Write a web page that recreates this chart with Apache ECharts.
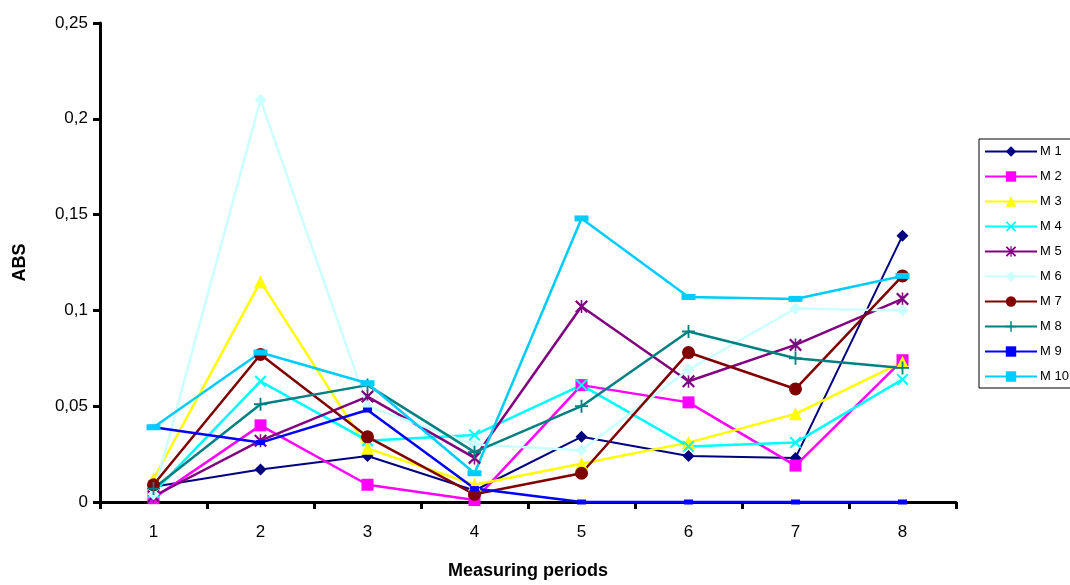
<!DOCTYPE html>
<html>
<head>
<meta charset="utf-8">
<script src="https://cdn.jsdelivr.net/npm/echarts@6/dist/echarts.min.js"></script>
<style>
  html, body { margin: 0; padding: 0; background: #fff; }
  #chart { width: 1070px; height: 585px; }
</style>
</head>
<body>
<div id="chart"></div>
<script>
// measuring periods
var periods = ['1', '2', '3', '4', '5', '6', '7', '8'];
var seriesNames = ['M 1', 'M 2', 'M 3', 'M 4', 'M 5', 'M 6', 'M 7', 'M 8', 'M 9', 'M 10'];

// ABS values
var m1  = [0.008, 0.017, 0.024, 0.006, 0.034, 0.024, 0.023, 0.139];
var m2  = [0.002, 0.040, 0.009, 0.001, 0.061, 0.052, 0.019, 0.074];
var m3  = [0.012, 0.115, 0.028, 0.009, 0.020, 0.031, 0.046, 0.073];
var m4  = [0.005, 0.063, 0.032, 0.035, 0.061, 0.029, 0.031, 0.064];
var m5  = [0.003, 0.032, 0.055, 0.023, 0.102, 0.063, 0.082, 0.106];
var m6  = [0.004, 0.210, 0.050, 0.030, 0.027, 0.069, 0.101, 0.100];
var m7  = [0.009, 0.077, 0.034, 0.004, 0.015, 0.078, 0.059, 0.118];
var m8  = [0.007, 0.051, 0.061, 0.026, 0.050, 0.089, 0.075, 0.070];
var m9  = [0.039, 0.031, 0.048, 0.007, 0, 0, 0, 0];
var m10 = [0.039, 0.078, 0.062, 0.015, 0.148, 0.107, 0.106, 0.118];

var allData = [m1, m2, m3, m4, m5, m6, m7, m8, m9, m10];
var colors = ['#000080', '#FF00FF', '#FFFF00', '#00FFFF', '#800080', '#CCFFFF', '#800000', '#008080', '#0000FF', '#00CCFF'];

var xPath = 'path://M0,1.2L1.2,0L5,3.8L8.8,0L10,1.2L6.2,5L10,8.8L8.8,10L5,6.2L1.2,10L0,8.8L3.8,5Z';
var starPath = 'path://M0,1.2L1.2,0L5,3.8L8.8,0L10,1.2L6.2,5L10,8.8L8.8,10L5,6.2L1.2,10L0,8.8L3.8,5ZM4.4,0H5.6V10H4.4Z';
var plusPath = 'path://M4.3,0H5.7V4.3H10V5.7H5.7V10H4.3V5.7H0V4.3H4.3Z';

var symbols = ['diamond', 'rect', 'triangle', xPath, starPath, 'diamond', 'circle', plusPath, 'rect', 'rect'];
var symbolSizes = [12, 12, 13, 12, 13, 12, 13, 13, [9, 5], [14, 6]];

var chart = echarts.init(document.getElementById('chart'));

var series = [];
for (var i = 0; i < allData.length; i++) {
  series.push({
    name: seriesNames[i],
    type: 'line',
    data: allData[i],
    symbol: symbols[i],
    symbolSize: symbolSizes[i],
    showAllSymbol: true,
    color: colors[i],
    lineStyle: { width: i === 0 ? 2 : 2.5, color: colors[i] },
    itemStyle: { color: colors[i] },
    emphasis: { disabled: true },
    animation: false
  });
}

var option = {
  backgroundColor: '#fff',
  animation: false,
  grid: { left: 100, right: 114, top: 23, bottom: 79 },
  legend: {
    orient: 'vertical',
    left: 979,
    top: 139,
    width: 95,
    padding: [6, 4, 5, 5],
    itemWidth: 52,
    itemHeight: 13,
    itemGap: 12,
    borderColor: '#000',
    borderWidth: 1,
    borderRadius: 0,
    data: seriesNames,
    textStyle: { fontFamily: 'Liberation Sans', fontSize: 13, color: '#000', padding: [0, 0, 0, -2] }
  },
  xAxis: {
    type: 'category',
    data: periods,
    boundaryGap: true,
    name: 'Measuring periods',
    nameLocation: 'middle',
    nameGap: 60,
    nameTextStyle: { fontFamily: 'Liberation Sans', fontSize: 18, fontWeight: 'bold', color: '#000' },
    axisLine: { lineStyle: { color: '#000', width: 3 } },
    axisTick: { show: true, length: 7, lineStyle: { color: '#000', width: 3 } },
    axisLabel: { fontFamily: 'Liberation Sans', fontSize: 17, color: '#000', margin: 22 },
    splitLine: { show: false }
  },
  yAxis: {
    type: 'value',
    min: 0,
    max: 0.25,
    interval: 0.05,
    name: 'ABS',
    nameLocation: 'middle',
    nameGap: 71,
    nameTextStyle: { fontFamily: 'Liberation Sans', fontSize: 18, fontWeight: 'bold', color: '#000' },
    axisLine: { show: true, lineStyle: { color: '#000', width: 3 } },
    axisTick: { show: true, length: 7, lineStyle: { color: '#000', width: 3 } },
    axisLabel: {
      fontFamily: 'Liberation Sans', fontSize: 17, color: '#000', margin: 12,
      formatter: function (v) { return String(Math.round(v * 100) / 100).replace('.', ','); }
    },
    splitLine: { show: false }
  },
  series: series
};

option && chart.setOption(option);
</script>
</body>
</html>
